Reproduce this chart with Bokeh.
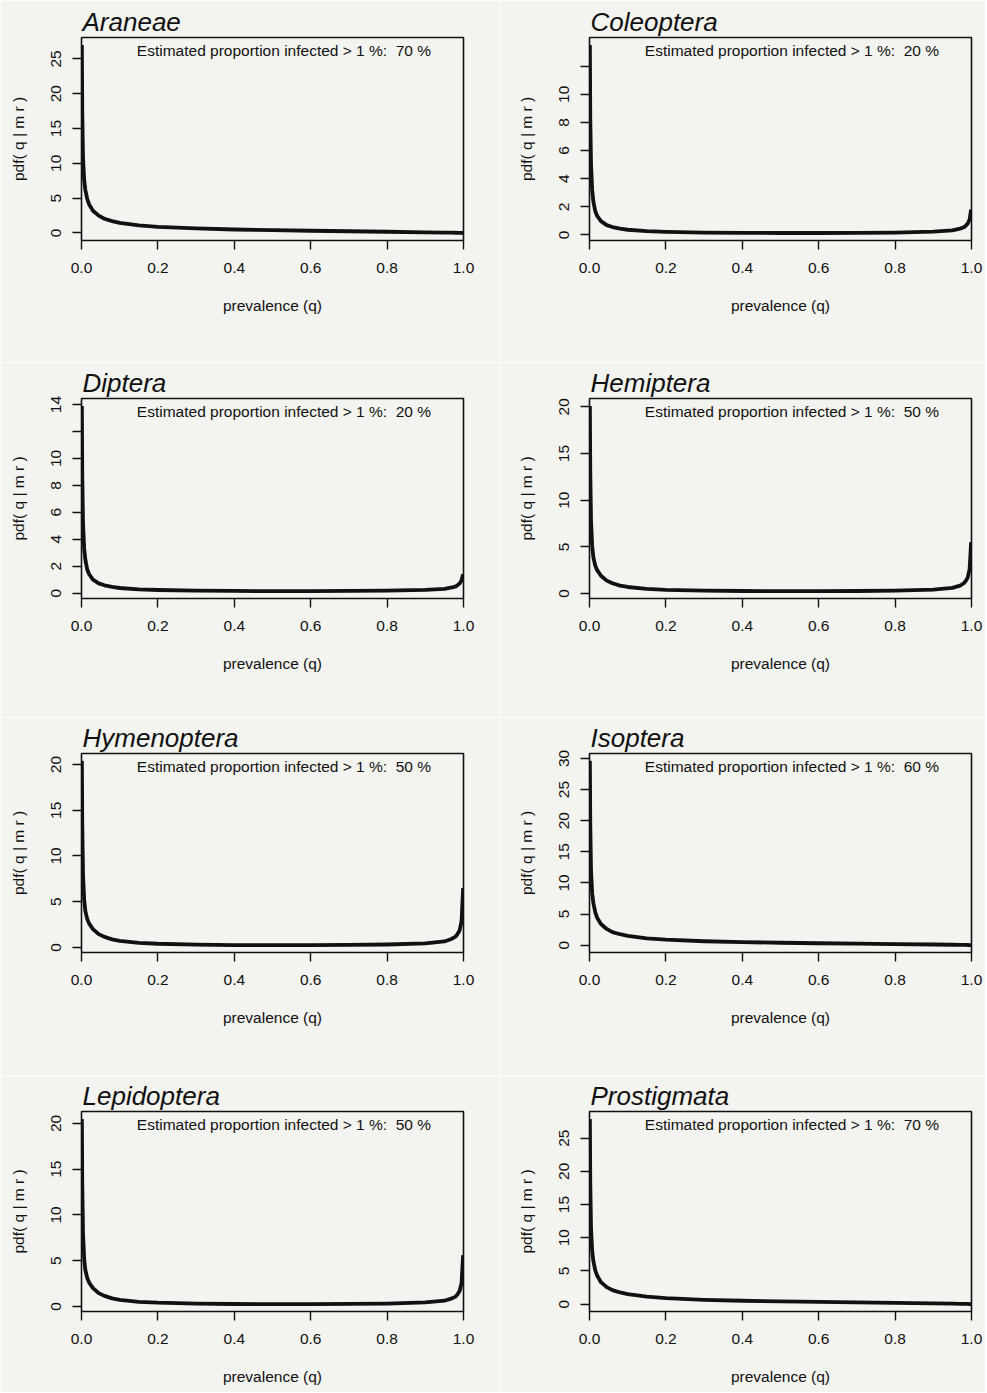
from bokeh.plotting import figure
from bokeh.layouts import gridplot
from bokeh.models import FixedTicker, Label, Range1d, PrintfTickFormatter
from bokeh.embed import file_html
from bokeh.resources import INLINE

# ---------------- data ----------------
taxa = ["Araneae", "Coleoptera", "Diptera", "Hemiptera",
        "Hymenoptera", "Isoptera", "Lepidoptera", "Prostigmata"]
pct_infected = [70, 20, 20, 50, 50, 60, 50, 70]

q = [0.001, 0.002, 0.004, 0.007, 0.01, 0.015, 0.02, 0.03, 0.045, 0.06, 0.08,
     0.1, 0.15, 0.2, 0.3, 0.4, 0.5, 0.6, 0.7, 0.8, 0.9, 0.95, 0.97, 0.98,
     0.985, 0.99, 0.995, 0.999]

pdf_araneae = [27.0, 17.5, 10.8, 7.6, 6.2, 4.9, 4.1, 3.2, 2.5, 2.05, 1.7,
               1.45, 1.1, 0.88, 0.65, 0.5, 0.4, 0.32, 0.25, 0.18, 0.1, 0.06,
               0.04, 0.03, 0.025, 0.02, 0.01, 0.0]
pdf_coleoptera = [13.5, 8.4, 5.0, 3.2, 2.4, 1.7, 1.35, 0.98, 0.7, 0.56, 0.45,
                  0.37, 0.27, 0.22, 0.17, 0.15, 0.14, 0.14, 0.15, 0.17, 0.24,
                  0.33, 0.45, 0.55, 0.66, 0.8, 1.1, 1.8]
pdf_diptera = [13.9, 8.7, 5.2, 3.3, 2.5, 1.75, 1.4, 1.0, 0.72, 0.58, 0.46,
               0.38, 0.28, 0.23, 0.18, 0.16, 0.15, 0.15, 0.16, 0.18, 0.24,
               0.32, 0.42, 0.5, 0.6, 0.72, 0.95, 1.4]
pdf_hemiptera = [20.1, 13.2, 7.8, 5.1, 3.9, 3.0, 2.5, 1.9, 1.38, 1.1, 0.85,
                 0.7, 0.5, 0.4, 0.31, 0.27, 0.26, 0.26, 0.27, 0.3, 0.42, 0.6,
                 0.85, 1.1, 1.35, 1.7, 2.6, 5.5]
pdf_hymenoptera = [20.4, 13.5, 8.0, 5.2, 4.0, 3.1, 2.6, 2.0, 1.45, 1.15,
                   0.88, 0.72, 0.5, 0.4, 0.3, 0.26, 0.25, 0.25, 0.27, 0.32,
                   0.45, 0.65, 0.95, 1.2, 1.5, 1.9, 2.9, 6.5]
pdf_isoptera = [29.6, 19.5, 12.0, 8.3, 6.8, 5.3, 4.4, 3.4, 2.6, 2.1, 1.75,
                1.5, 1.1, 0.88, 0.62, 0.48, 0.38, 0.3, 0.23, 0.17, 0.1, 0.06,
                0.04, 0.03, 0.025, 0.02, 0.01, 0.0]
pdf_lepidoptera = [20.5, 13.5, 8.0, 5.2, 4.0, 3.1, 2.6, 2.0, 1.45, 1.15,
                   0.88, 0.72, 0.5, 0.4, 0.3, 0.26, 0.25, 0.25, 0.27, 0.31,
                   0.43, 0.62, 0.88, 1.1, 1.35, 1.7, 2.6, 5.6]
pdf_prostigmata = [27.9, 18.5, 11.4, 8.0, 6.5, 5.1, 4.3, 3.3, 2.55, 2.1,
                   1.75, 1.5, 1.12, 0.9, 0.65, 0.5, 0.4, 0.32, 0.25, 0.18,
                   0.1, 0.06, 0.04, 0.03, 0.025, 0.02, 0.01, 0.0]

x_ticks = [0.0, 0.2, 0.4, 0.6, 0.8, 1.0]
y_ticks_araneae = [0, 5, 10, 15, 20, 25]
y_ticks_coleoptera = [0, 2, 4, 6, 8, 10, 12]
y_ticks_diptera = [0, 2, 4, 6, 8, 10, 12, 14]
y_ticks_hemiptera = [0, 5, 10, 15, 20]
y_ticks_hymenoptera = [0, 5, 10, 15, 20]
y_ticks_isoptera = [0, 5, 10, 15, 20, 25, 30]
y_ticks_lepidoptera = [0, 5, 10, 15, 20]
y_ticks_prostigmata = [0, 5, 10, 15, 20, 25]
# tick values drawn without a label (label overlap in the original)
y_unlabeled = {"Coleoptera": [12], "Diptera": [12]}

series = [pdf_araneae, pdf_coleoptera, pdf_diptera, pdf_hemiptera,
          pdf_hymenoptera, pdf_isoptera, pdf_lepidoptera, pdf_prostigmata]
y_ticks = [y_ticks_araneae, y_ticks_coleoptera, y_ticks_diptera,
           y_ticks_hemiptera, y_ticks_hymenoptera, y_ticks_isoptera,
           y_ticks_lepidoptera, y_ticks_prostigmata]

# ---------------- styling / layout ----------------
FONT = "Liberation Sans"
INK = "#111111"
BG = "#f3f3ef"
FS = "15.5px"
NBSP = "\u00a0"

col_borders = [(81, 382, 37), (89, 382, 14)]          # left, frame, right
row_borders = [(37, 203, 122), (36, 200, 119),
               (36, 199, 123), (36, 200, 81)]          # top, frame, bottom

figs = []
for i, name in enumerate(taxa):
    r, c = divmod(i, 2)
    lb, fw, rb = col_borders[c]
    tb, fh, bb = row_borders[r]
    ys = series[i]
    lo, hi = min(ys), max(ys)
    ext = 0.04 * (hi - lo)
    y0, y1 = lo - ext, hi + ext

    p = figure(width=lb + fw + rb, height=tb + fh + bb,
               x_range=Range1d(0, 1), y_range=Range1d(y0, y1),
               output_backend="svg", toolbar_location=None,
               min_border_left=lb, min_border_right=rb,
               min_border_top=tb, min_border_bottom=bb,
               background_fill_color=BG, border_fill_color=BG,
               outline_line_color=INK, outline_line_width=1.6)
    p.xgrid.visible = False
    p.ygrid.visible = False

    # title
    p.title.text = name
    p.title.text_font = FONT
    p.title.text_font_style = "italic"
    p.title.text_font_size = "26px"
    p.title.text_color = INK
    p.title.align = "left"
    p.title.standoff = 2
    p.title.offset = 1

    # x axis
    xa = p.xaxis[0]
    xa.ticker = FixedTicker(ticks=x_ticks, minor_ticks=[])
    xa.formatter = PrintfTickFormatter(format="%.1f")
    xa.axis_label = "prevalence (q)"
    # y axis
    ya = p.yaxis[0]
    ya.ticker = FixedTicker(ticks=y_ticks[i], minor_ticks=[])
    ya.major_label_orientation = "vertical"
    ya.axis_label = "pdf( q | m r )"
    ya.major_label_overrides = {t: "" for t in y_unlabeled.get(name, [])}

    for ax in (xa, ya):
        ax.axis_line_color = None
        ax.major_tick_line_color = INK
        ax.major_tick_line_width = 1.4
        ax.major_tick_out = 9
        ax.major_tick_in = 0
        ax.minor_tick_out = 0
        ax.minor_tick_in = 0
        ax.major_label_text_font = FONT
        ax.major_label_text_font_size = FS
        ax.major_label_text_color = INK
        ax.axis_label_text_font = FONT
        ax.axis_label_text_font_size = FS
        ax.axis_label_text_font_style = "normal"
        ax.axis_label_text_color = INK
    xa.major_label_standoff = 13
    xa.axis_label_standoff = 21
    ya.major_label_standoff = 11
    ya.axis_label_standoff = 22

    p.line(q, ys, line_color=INK, line_width=3.8, line_join="round")

    # annotation, 13 px below the top of the frame
    dy = 13 * (y1 - y0) / fh
    note = f"Estimated proportion infected > 1 %: {NBSP}{pct_infected[i]} %"
    p.add_layout(Label(x=0.53, y=y1 - dy, text=note,
                       text_font=FONT, text_font_size=FS, text_color=INK,
                       text_align="center", text_baseline="middle"))
    figs.append(p)

grid = gridplot([[figs[0], figs[1]], [figs[2], figs[3]],
                 [figs[4], figs[5]], [figs[6], figs[7]]],
                toolbar_location=None)

open("out.html", "w").write(file_html(grid, INLINE))
